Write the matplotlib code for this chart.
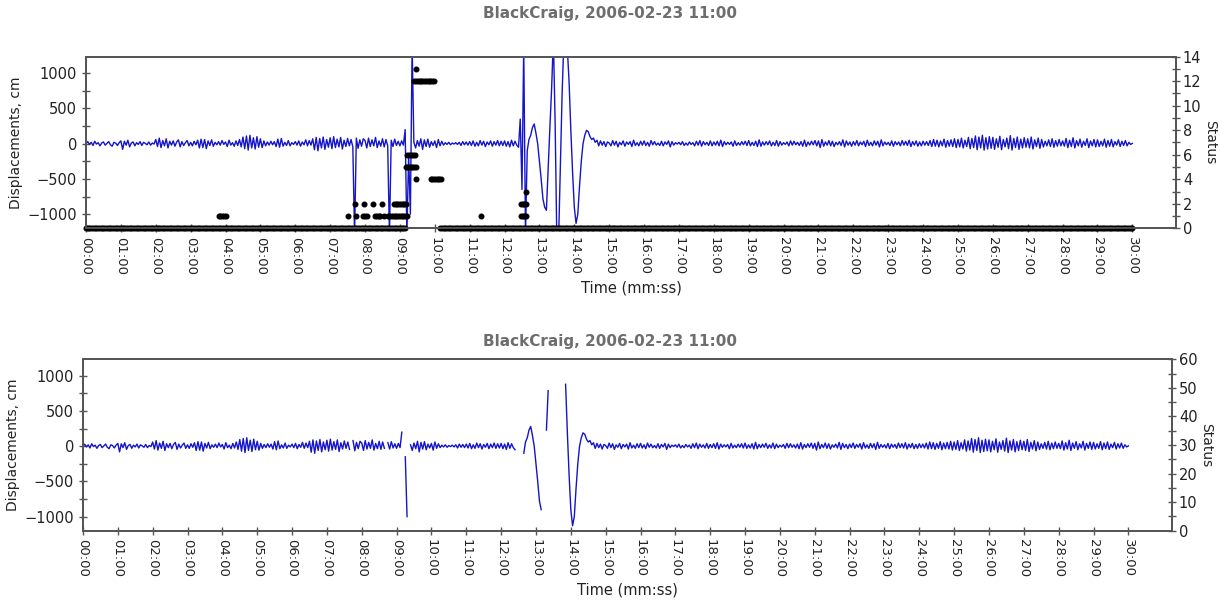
import numpy as np
import matplotlib
matplotlib.use("Agg")
import matplotlib.pyplot as plt
from matplotlib.ticker import MultipleLocator, FixedLocator

STEP_S = 3  # seconds between displacement samples

# heave displacement (cm), one row per minute of record
disp_cm = [
    0, 30, -10, 20, -25, 35, -5, 15, -30, 10, 25, -20, 5, 30, -15, -35, 20, 10, -25, 15,
    40, -80, 35, -20, 50, -45, 10, 25, -30, 15, -10, 30, -25, 20, 5, -15, 25, -20, 10, -5,
    60, -40, 80, -55, 45, -30, 70, -60, 35, -20, 40, -35, 25, 55, -45, 30, -25, 15, 45, -30,
    20, -30, 35, -15, 50, -60, 65, -55, 60, -70, 40, -25, 55, -35, 20, -15, 30, -20, 45, -10,
    25, -40, 50, -20, 15, -35, 40, -25, 60, -45, 95, -70, 110, -90, 120, -60, 85, -75, 100, -50,
    70, -55, 40, -30, 25, -20, 35, -15, 30, -40, 65, -50, 75, -35, 20, -25, 45, -30, 15, -10,
    30, -20, 40, -35, 25, -15, 55, -30, 45, -20, 70, -85, 90, -100, 75, -60, 95, -80, 60, -50,
    85, -70, 100, -55, 65, -45, 90, -75, 50, -40, 75, -30, 60, -45, -1300, 80, -65, 55, -35, 70,
    45, -60, 80, -40, 55, -30, 90, -55, 40, -35, 70, -45, 60, -30, -1300, 50, -40, 65, -25, 35,
    -30, 40, -20, 200, -1300, -150, -1000, 1400, 20, -60, 45, -35, 70, -80, 55, -40, 65, -50, 30, -25,
    40, -55, 60, -30, 35, -20, 15, -10, 20, -15, 10, -5, 15, -10, 20, -25, 30, -15, 25, -20,
    30, -25, 40, -35, 20, -30, 45, -20, 35, -40, 25, -15, 40, -35, 30, -20, 45, -30, 35, -25,
    40, -35, 30, -45, 50, -30, 35, -20, -50, 350, -650, 1400, -1300, -100, 60, 120, 230, 280, 150, 0,
    -250, -500, -780, -900, -945, -350, 230, 790, 1500, 300, -1400, -1350, -300, 700, 1450, 1600, 1350, 880, 200, -400,
    -900, -1130, -1000, -600, -250, 0, 120, 190, 170, 100, 60, 80, 20, 50, -30, 40, -20, 30, -40, 25,
    10, -30, 45, -20, 35, -45, 20, -15, 40, -35, 25, -10, 30, -40, 50, -25, 15, -30, 35, -20,
    40, -25, 20, -35, 45, -15, 30, -20, 10, -25, 35, -30, 25, -10, 40, -45, 30, -20, 15, -5,
    20, -15, 30, -25, 10, -20, 25, -10, 15, -30, 35, -20, 45, -35, 30, -15, 20, -25, 40, -30,
    25, -20, 35, -30, 50, -40, 30, -15, 20, -10, 25, -35, 40, -25, 15, -20, 30, -15, 35, -25,
    45, -30, 20, -25, 35, -40, 55, -35, 25, -20, 30, -15, 40, -30, 20, -25, 45, -35, 30, -20,
    15, -10, 25, -30, 40, -20, 35, -15, 20, -25, 30, -35, 50, -40, 25, -20, 35, -15, 45, -30,
    40, -55, 60, -35, 25, -20, 45, -30, 35, -40, 20, -15, 30, -25, 55, -45, 40, -20, 25, -35,
    30, -20, 45, -30, 25, -15, 35, -40, 50, -25, 20, -30, 40, -20, 35, -45, 55, -30, 25, -15,
    20, -25, 40, -35, 30, -15, 25, -30, 45, -20, 35, -25, 50, -40, 30, -20, 40, -35, 25, -30,
    35, -20, 30, -25, 45, -40, 60, -35, 50, -45, 40, -30, 65, -50, 45, -35, 55, -40, 70, -55,
    60, -45, 80, -60, 50, -40, 90, -70, 75, -55, 110, -85, 95, -60, 120, -90, 85, -75, 100, -65,
    90, -80, 70, -50, 105, -85, 60, -45, 80, -70, 115, -90, 75, -55, 95, -80, 65, -60, 85, -50,
    70, -60, 95, -75, 55, -40, 80, -65, 60, -45, 35, -30, 55, -40, 70, -50, 45, -35, 60, -30,
    40, -35, 75, -55, 50, -40, 85, -60, 45, -30, 65, -50, 35, -25, 70, -55, 40, -30, 60, -45,
    55, -40, 35, -30, 65, -50, 45, -35, 60, -45, 30, -20, 55, -40, 35, -25, 45, -30, 20, -10,
    5,
]

# sample index ranges flagged bad -> blanked in the lower (cleaned) panel
bottom_gaps = [(154, 154), (174, 174), (184, 184), (187, 187),
               (249, 252), (264, 265), (268, 276)]

# status flag runs: (start min, end min, status), one flag per sample
status_runs = [
    (0.00, 9.15, 0), (10.15, 30.00, 0),
    (3.80, 4.00, 1), (7.52, 7.52, 1), (7.73, 7.73, 1), (7.93, 8.05, 1),
    (8.29, 8.44, 1), (8.55, 8.55, 1), (8.65, 9.20, 1), (11.33, 11.33, 1),
    (12.47, 12.62, 1),
    (7.70, 7.70, 2), (7.97, 7.97, 2), (8.24, 8.24, 2), (8.49, 8.49, 2),
    (8.83, 9.18, 2), (12.47, 12.62, 2),
    (12.61, 12.61, 3),
    (9.47, 9.47, 4), (9.88, 10.18, 4),
    (9.17, 9.45, 5),
    (9.20, 9.42, 6),
    (9.41, 9.98, 12),
    (9.46, 9.46, 13),
]

minute_ticks = list(range(0, 31))
title = "BlackCraig, 2006-02-23 11:00"

plt.rcParams['font.family'] = ['DejaVu Sans']

disp = np.array(disp_cm, dtype=float)
t_min = np.arange(len(disp)) * STEP_S / 60.0

disp_clean = disp.copy()
for a, b in bottom_gaps:
    disp_clean[a:b + 1] = np.nan

st_t, st_v = [], []
for a, b, v in status_runs:
    n = int(round((b - a) / (STEP_S / 60.0))) + 1
    st_t.extend(np.linspace(a, b, n))
    st_v.extend([v] * n)

SPINE = '#555555'
BLUE = '#1414c8'
TXT = '#222222'


def style_axes(ax, ax2, rmax, rmajor, rminor):
    ax.set_xlim(0, 31.25)
    ax.set_ylim(-1200, 1235)
    ax.xaxis.set_major_locator(FixedLocator(minute_ticks))
    ax.set_xticklabels([f"{m:02d}:00" for m in minute_ticks], rotation=-90, fontsize=9.5)
    ax.yaxis.set_major_locator(MultipleLocator(500))
    ax.yaxis.set_minor_locator(MultipleLocator(250))
    ax.tick_params(axis='both', which='both', direction='inout', length=6,
                   width=1, color=SPINE, labelcolor=TXT)
    ax.tick_params(axis='y', labelsize=10.5)
    ax.tick_params(axis='x', pad=3)
    ax.set_ylabel("Displacements, cm", fontsize=10, color=TXT, labelpad=3)
    ax.set_xlabel("Time (mm:ss)", fontsize=10.5, color=TXT, labelpad=4)
    ax2.set_ylim(0, rmax)
    ax2.yaxis.set_major_locator(MultipleLocator(rmajor))
    ax2.yaxis.set_minor_locator(MultipleLocator(rminor))
    ax2.tick_params(axis='y', which='both', direction='inout', length=6,
                    width=1, color=SPINE, labelcolor=TXT, labelsize=10.5, pad=2)
    ax2.set_ylabel("Status", rotation=270, fontsize=10, color=TXT, labelpad=11)
    for a in (ax, ax2):
        for s in a.spines.values():
            s.set_color(SPINE)
            s.set_linewidth(1.3)


fig = plt.figure(figsize=(12.2, 6.07), dpi=100)

# upper panel: raw record with status flags
ax1 = fig.add_axes([0.0705, 0.6239, 0.8934, 0.2827])
ax1.plot(t_min, disp, color=BLUE, lw=1.0)
ax1r = ax1.twinx()
ax1r.plot(st_t, st_v, 'o', ms=3.3, color='black', clip_on=False)
style_axes(ax1, ax1r, 14, 2, 1)

# lower panel: cleaned record
ax2 = fig.add_axes([0.0680, 0.1257, 0.8926, 0.2824])
ax2.plot(t_min, disp_clean, color=BLUE, lw=1.0)
ax2r = ax2.twinx()
style_axes(ax2, ax2r, 60, 10, 5)

fig.text(0.5, 0.977, title, ha='center', va='center', fontsize=11,
         fontweight='bold', color='#6e6e6e')
fig.text(0.5, 0.438, title, ha='center', va='center', fontsize=11,
         fontweight='bold', color='#6e6e6e')

fig.savefig("out.png", dpi=100)
